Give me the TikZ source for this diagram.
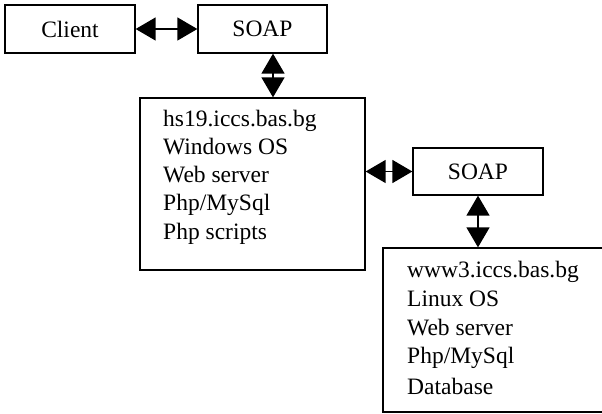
\documentclass[tikz,border=0pt]{standalone}
\usepackage{fontspec}
\setmainfont{Liberation Serif}
\usetikzlibrary{arrows.meta}
\begin{document}
\begin{tikzpicture}[x=1pt,y=-1pt,
  box/.style={draw,line width=1.3pt,inner sep=0pt},
  lbl/.style={font=\fontsize{23.5}{28}\selectfont},
  tline/.style={anchor=base west,inner sep=0pt,font=\fontsize{23.5}{28}\selectfont},
  dbl/.style={line width=1.4pt,{Triangle[length=20pt,width=23pt]}-{Triangle[length=20pt,width=23pt]}}]
\useasboundingbox (0,0) rectangle (602,414);
\clip (0,0) rectangle (602,414);
\node[box,lbl,minimum width=130pt,minimum height=48pt] (client) at (70,29) {Client};
\node[box,lbl,minimum width=129pt,minimum height=48pt] (soap1) at (262.5,29) {SOAP};
\node[box,minimum width=225pt,minimum height=172pt] (hs) at (252.5,184) {};
\node[tline] (h1) at (163,127) {hs19.iccs.bas.bg};
\node[tline] (h2) at (163,155) {Windows OS};
\node[tline] (h3) at (163,183) {Web server};
\node[tline] (h4) at (163,211) {Php/MySql};
\node[tline] (h5) at (163,239) {Php scripts};
\node[box,lbl,minimum width=130pt,minimum height=47pt] (soap2) at (478,171.5) {SOAP};
\node[box,minimum width=237pt,minimum height=164pt] (www) at (501.5,330) {};
\node[tline] (w1) at (407,277) {www3.iccs.bas.bg};
\node[tline] (w2) at (407,306) {Linux OS};
\node[tline] (w3) at (407,335) {Web server};
\node[tline] (w4) at (407,363) {Php/MySql};
\node[tline] (w5) at (407,394) {Database};
\draw[dbl] (client.east) -- (soap1.west);
\draw[dbl] ([xshift=10.5pt]soap1.south) -- ([xshift=10.5pt]soap1.south |- hs.north);
\draw[dbl] (hs.east |- soap2.west) -- (soap2.west);
\draw[dbl] (soap2.south) -- (soap2.south |- www.north);
\end{tikzpicture}
\end{document}
